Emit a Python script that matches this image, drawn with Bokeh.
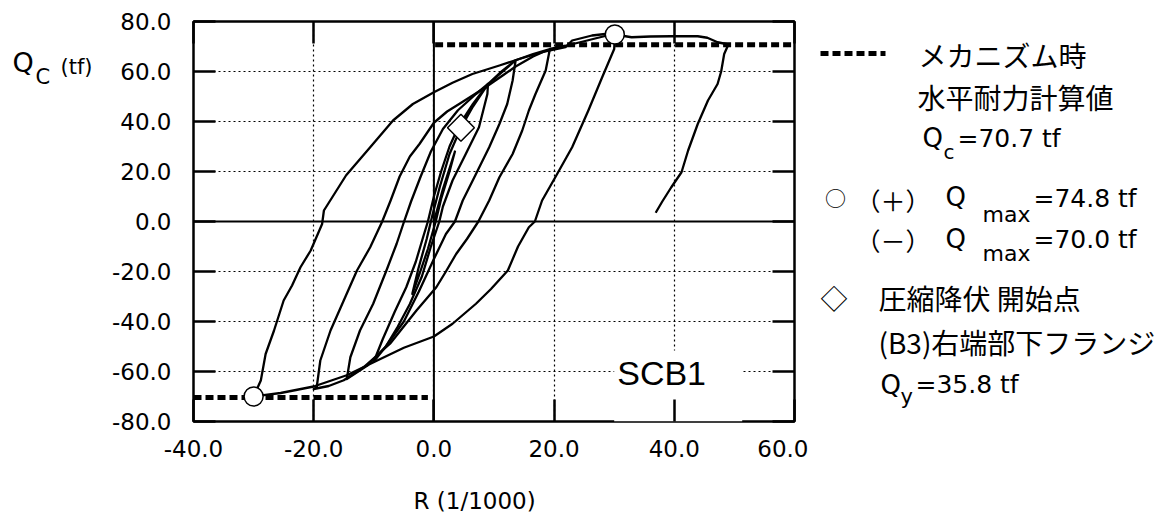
import numpy as np
from bokeh.plotting import figure
from bokeh.models import Range1d, FixedTicker, LinearAxis, PrintfTickFormatter, Span, Label, BoxAnnotation
from bokeh.layouts import row, column
from bokeh.embed import file_html
from bokeh.resources import INLINE
from bokeh.core.properties import value

# ---------------- data ----------------
r_ticks = [-40, -20, 0, 20, 40, 60]
q_ticks = [-80, -60, -40, -20, 0, 20, 40, 60, 80]

# hysteresis cycles, R (1/1000) and Qc (tf)
c1_R = [0.0, 1.5, 3.5, 2.6, 1.2, 0.3, -1.0, -2.4, -3.6, -2.6, -1.2, -0.2, 1.0, 2.6, 4.5]
c1_Q = [0.0, 13.0, 28.0, 20.0, 9.0, 0.0, -11.0, -21.0, -29.0, -19.0, -7.0, 3.0, 14.0, 27.0, 37.5]

c2_R = [4.5, 6.5, 9.0, 8.9, 7.5, 5.3, 3.1, 1.5, 0.9, -0.5, -2.0, -4.0, -6.0, -8.0, -10.0,
        -8.5, -6.5, -4.6, -3.0, -1.8, -1.0, 0.0, 1.2, 2.6, 4.2, 6.5, 9.0]
c2_Q = [37.5, 46.0, 55.0, 51.0, 37.7, 27.0, 16.4, 6.0, 0.0, -10.0, -22.0, -33.0, -42.0, -50.0, -56.0,
        -47.0, -36.0, -26.3, -16.0, -6.3, 0.0, 10.0, 20.0, 30.0, 38.5, 47.0, 55.0]

c3_R = [9.0, 11.0, 13.6, 13.1, 12.2, 10.9, 9.2, 7.0, 4.8, 3.5, 2.0, 0.0, -2.5, -5.0, -8.0, -11.0, -14.5,
        -13.9, -12.3, -10.1, -7.9, -6.2, -5.1, -3.8, -2.2, -0.5, 1.5, 4.0, 7.0, 10.5, 13.6]
c3_Q = [55.0, 59.5, 64.5, 56.4, 47.0, 39.0, 29.7, 19.0, 8.4, 0.0, -5.0, -15.0, -28.0, -40.0, -50.0, -57.5, -63.0,
        -54.3, -43.6, -32.9, -19.6, -8.9, -1.0, 8.0, 18.0, 28.0, 37.0, 44.5, 51.0, 58.0, 64.5]

c4_R = [13.6, 16.5, 19.3, 18.6, 16.9, 15.8, 14.7, 13.1, 10.9, 9.2, 7.4, 5.5, 3.7, 2.0, 0.4, -2.9, -7.3,
        -11.7, -15.0, -17.5, -20.0, -19.5, -18.9, -17.2, -15.0, -12.8, -10.6, -8.6, -7.2, -5.7, -4.0,
        -2.4, 0.0, 2.2, 4.2, 8.6, 11.5, 13.6, 16.5, 19.3]
c4_Q = [64.5, 67.0, 69.0, 60.4, 51.0, 44.4, 36.4, 27.0, 17.7, 8.4, 0.0, -7.0, -13.0, -20.0, -26.3, -35.6, -48.9,
        -58.3, -63.5, -65.8, -67.0, -66.3, -55.6, -43.6, -31.6, -19.6, -10.3, 0.0, 8.4, 18.0, 26.0,
        31.0, 39.5, 44.0, 47.0, 53.7, 58.5, 62.0, 66.0, 69.0]

c5_R = [19.3, 21.9, 24.0, 26.5, 28.5, 30.1, 30.0, 28.0, 25.7, 23.0, 20.2, 18.0, 16.8, 15.8, 14.0, 12.3,
        9.5, 7.0, 3.1, 0.0, -5.0, -9.6, -14.5, -20.0, -25.5, -30.0]
c5_Q = [69.0, 70.3, 71.5, 73.0, 74.2, 74.8, 69.0, 57.7, 44.4, 29.7, 17.7, 8.4, 0.0, -2.3, -10.0, -19.6,
        -27.0, -32.9, -40.9, -46.0, -50.5, -55.8, -61.5, -66.0, -68.6, -70.0]

c6_R = [-30.0, -28.8, -28.0, -26.6, -25.0, -23.6, -22.2, -20.5, -18.6, -18.3, -14.6, -10.6, -6.8, -3.5,
        0.0, 3.1, 6.4, 10.9, 14.2, 18.0, 21.9, 23.0, 26.3, 28.5, 30.1, 32.9, 36.0, 39.5, 43.9, 45.5,
        47.2, 49.0, 48.3, 47.8, 47.2, 45.6, 43.9, 42.3, 41.2, 39.5, 38.0, 36.9]
c6_Q = [-70.0, -63.6, -53.0, -43.6, -31.6, -25.6, -18.3, -11.6, -1.0, 4.4, 18.5, 29.7, 40.4, 47.0,
        51.7, 55.5, 59.0, 62.4, 65.0, 67.7, 69.7, 72.4, 74.4, 75.0, 74.8, 73.7, 74.0, 74.1, 74.1, 73.5,
        71.7, 70.8, 67.0, 60.0, 55.0, 48.4, 39.0, 28.4, 19.7, 13.7, 8.0, 3.5]

cycles = [(c1_R, c1_Q), (c2_R, c2_Q), (c3_R, c3_Q), (c4_R, c4_Q), (c5_R, c5_Q), (c6_R, c6_Q)]

# mechanism horizontal capacity (calculated) Qc = 70.7 tf
qc_pos_R = [0.2, 60.0]
qc_pos_Q = [70.7, 70.7]
qc_neg_R = [-40.0, -1.0]
qc_neg_Q = [-70.4, -70.4]

# maximum strengths (+) 74.8, (-) 70.0
qmax_R = [30.1, -30.0]
qmax_Q = [74.8, -70.0]

# start of compressive yielding
yield_R = [4.5]
yield_Q = [37.5]

# ---------------- layout sizes ----------------
TOP_H = 470
LEFT_W = 108
CHART_W = 700
LEGEND_W = 366
BOTTOM_H = 47
FRAME_TOP = 21
FRAME_BOTTOM = 421
TICK_FONT = "DejaVu Sans"
LAT = value(TICK_FONT)
JP = value("Noto Sans CJK JP")


def blank(w, h, y0, y1):
    # y range given in page pixels (top y0, bottom y1); frames in a row are aligned to the chart frame
    f = figure(width=w, height=h, x_range=Range1d(0, w), y_range=Range1d(y1, y0),
               output_backend="svg", toolbar_location=None, min_border=0,
               x_axis_type=None, y_axis_type=None)
    f.outline_line_color = None
    f.background_fill_color = "white"
    f.border_fill_color = "white"
    f.xgrid.visible = False
    f.ygrid.visible = False
    return f


def txt(f, x, y, s, font, size, align="left"):
    f.text(x=[x], y=[y], text=[s], text_font=font, text_font_size=size,
           text_baseline="middle", text_align=align, text_color="black")


# ---------------- chart ----------------
p = figure(width=CHART_W, height=TOP_H, x_range=Range1d(-40, 60), y_range=Range1d(-80, 80),
           output_backend="svg", toolbar_location=None,
           min_border_left=82, min_border_right=14, min_border_top=FRAME_TOP,
           min_border_bottom=TOP_H - FRAME_BOTTOM)
p.background_fill_color = "white"
p.border_fill_color = "white"
p.outline_line_color = "black"
p.outline_line_width = 2.5

xt = FixedTicker(ticks=r_ticks)
yt = FixedTicker(ticks=q_ticks)

xa = p.xaxis[0]
ya = p.yaxis[0]
xa.ticker = xt
ya.ticker = yt
for ax in (xa, ya):
    ax.formatter = PrintfTickFormatter(format="%.1f")
    ax.major_tick_in = 22
    ax.major_tick_out = 0
    ax.major_tick_line_width = 2.5
    ax.major_tick_line_color = "black"
    ax.minor_tick_line_color = None
    ax.axis_line_color = None
    ax.major_label_text_font = TICK_FONT
    ax.major_label_text_font_size = "23px"
    ax.major_label_text_color = "black"
xa.major_label_standoff = 18
ya.major_label_standoff = 22

top_ax = LinearAxis(ticker=FixedTicker(ticks=r_ticks), major_label_overrides={t: "" for t in r_ticks})
right_ax = LinearAxis(ticker=FixedTicker(ticks=q_ticks), major_label_overrides={t: "" for t in q_ticks})
for ax in (top_ax, right_ax):
    ax.major_tick_in = 22
    ax.major_tick_out = 0
    ax.major_tick_line_width = 2.5
    ax.major_tick_line_color = "black"
    ax.minor_tick_line_color = None
    ax.axis_line_color = None
    ax.major_label_text_font_size = "1px"
    ax.major_label_standoff = 0
p.add_layout(top_ax, "above")
p.add_layout(right_ax, "right")

p.xgrid.ticker = xt
p.ygrid.ticker = yt
for g in (p.xgrid, p.ygrid):
    g.grid_line_color = "black"
    g.grid_line_dash = "2 3"
    g.grid_line_width = 1.2

# white box behind the specimen name
p.add_layout(BoxAnnotation(left=30.0, right=51.3, bottom=-80, top=-51.6,
                           fill_color="white", fill_alpha=1.0, line_color=None, level="underlay"))

p.add_layout(Span(location=0, dimension="height", line_color="black", line_width=2))
p.add_layout(Span(location=0, dimension="width", line_color="black", line_width=2))

for R, Q in cycles:
    p.line(R, Q, line_color="black", line_width=2.3, line_join="round")

p.line(qc_pos_R, qc_pos_Q, line_color="black", line_width=5, line_dash="8 4")
p.line(qc_neg_R, qc_neg_Q, line_color="black", line_width=5, line_dash="8 4")

p.scatter(qmax_R, qmax_Q, marker="circle", size=19, fill_color="white", line_color="black", line_width=1.5)
p.scatter(yield_R, yield_Q, marker="square", angle=np.pi / 4, size=19, fill_color="white",
          line_color="black", line_width=1.5)

p.add_layout(Label(x=30.5, y=-60.4, text="SCB1", text_font="Liberation Sans",
                   text_font_size="34px", text_color="black", text_baseline="middle"))

# ---------------- y-axis title (left strip) ----------------
left = blank(LEFT_W, TOP_H, FRAME_TOP, FRAME_BOTTOM)
txt(left, 12, 62, "Q", LAT, "27px")
txt(left, 35, 76, "C", LAT, "21px")
txt(left, 60, 66.5, "(tf)", LAT, "21px")

# ---------------- legend panel ----------------
q = blank(LEGEND_W, TOP_H, FRAME_TOP, FRAME_BOTTOM)
q.line([12, 77], [53, 53], line_color="black", line_width=5, line_dash="8 4")

txt(q, 110, 54, "メカニズム時", JP, "28px")
txt(q, 109, 96, "水平耐力計算値", JP, "28px")
txt(q, 114, 137.5, "Q", LAT, "26px")
txt(q, 135, 151.5, "c", LAT, "20px")
txt(q, 149, 137.5, "=70.7 tf", LAT, "25px")

txt(q, 27, 196.5, "○", JP, "21px", "center")
txt(q, 47, 199, "（＋）", JP, "25px")
txt(q, 137, 196.5, "Q", LAT, "26px")
txt(q, 174, 214, "max", LAT, "22px")
txt(q, 225, 197.5, "=74.8 tf", LAT, "25px")

txt(q, 47, 239, "（－）", JP, "25px")
txt(q, 137, 238.5, "Q", LAT, "26px")
txt(q, 174, 253, "max", LAT, "22px")
txt(q, 225, 239, "=70.0 tf", LAT, "25px")

txt(q, 25.5, 297, "◇", JP, "27px", "center")
txt(q, 70, 297.5, "圧縮降伏 開始点", JP, "28px")
txt(q, 70, 341.5, "(B3)右端部下フランジ", JP, "28px")
txt(q, 72, 384, "Q", LAT, "26px")
txt(q, 92, 396.5, "y", LAT, "21px")
txt(q, 107, 384, "=35.8 tf", LAT, "25px")

# ---------------- x-axis title (bottom strip) ----------------
bottom = blank(LEFT_W + CHART_W + LEGEND_W, BOTTOM_H, TOP_H, TOP_H + BOTTOM_H)
txt(bottom, 413, 500.5, "R (1/1000)", LAT, "23px")

layout = column(row(left, p, q), bottom)
open("out.html", "w").write(file_html(layout, INLINE))
